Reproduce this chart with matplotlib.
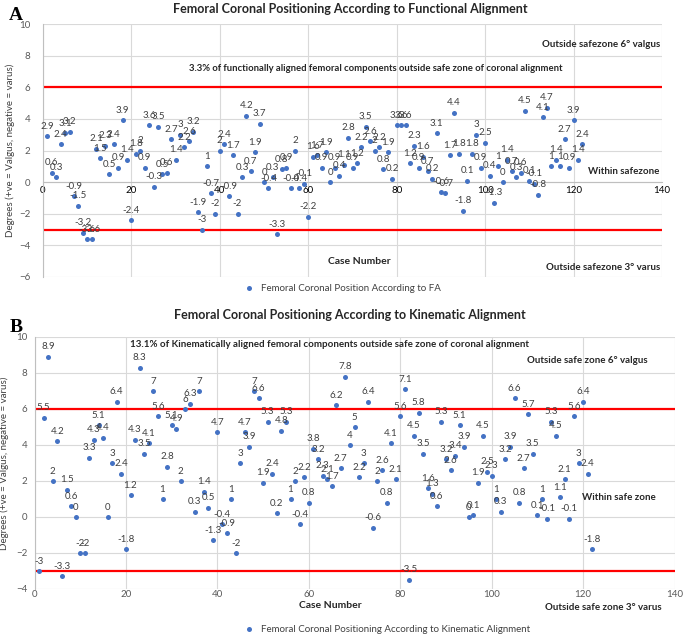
import matplotlib
matplotlib.use("Agg")
import matplotlib.pyplot as plt
import numpy as np

# ---------------- data ----------------
fa_values = [2.9, 0.6, 0.3, 2.4, 3.1, 3.2, -0.9, -1.5, -3.2, -3.6,
             -3.6, 2.1, 1.5, 2.3, 0.5, 2.4, 0.9, 3.9, 1.4, -2.4,
             1.8, 2, 0.9, 3.6, -0.3, 3.5, 0.5, 0.6, 2.7, 1.4,
             3, 2.2, 2.6, 3.2, -1.9, -3, 1, -0.7, -2, 2,
             2.4, -0.9, 1.7, -2, 0.3, 4.2, 0.7, 1.9, 3.7, 0,
             -0.4, 0.3, -3.3, 0.8, 0.9, -0.4, 2, -0.4, -0.1, -2.2,
             1.6, 1.7, 0.9, 1.9, 0, 0.9, 0.4, 1.1, 2.8, 0.9,
             1.2, 2.2, 3.5, 2.6, 2, 2.2, 0.8, 1.9, 0.2, 3.6,
             3.6, 3.6, 1.2, 2.3, 0.9, 1.6, 0.7, 0.2, 3.1, -0.6,
             -0.7, 1.7, 4.4, 1.8, -1.8, 0.1, 1.8, 3, 0.9, 2.5,
             0.4, -1.3, 1, 0, 1.4, 0.7, 0.3, 0.6, 4.5, 0.1,
             -0.1, -0.8, 4.1, 4.7, 1, 1.4, 1, 2.7, 0.9, 3.9,
             1.4, 2.4]

ka_values = [-3, 5.5, 8.9, 2, 4.2, -3.3, 1.5, 0.6, 0, -2,
             -2, 3.3, 4.3, 5.1, 4.4, 0, 3, 6.4, 2.4, -1.8,
             1.2, 4.3, 8.3, 3.5, 4.1, 7, 5.6, 1, 2.8, 5.1,
             4.9, 2, 6, 6.3, 0.3, 7, 1.4, 0.5, -1.3, 4.7,
             -0.4, -0.9, 1, -2, 3, 4.7, 3.9, 7, 6.6, 1.9,
             5.3, 2.4, 0.2, 4.8, 5.3, 1, 2, -0.4, 2.2, 0.8,
             3.8, 3.2, 2.3, 2.1, 1.7, 6.2, 2.7, 7.8, 4, 5,
             2.2, 3, 6.4, -0.6, 2, 2.6, 0.8, 4.1, 2.1, 5.6,
             7.1, -3.5, 4.5, 5.8, 3.5, 1.6, 1.3, 0.6, 5.3, 3.2,
             2.6, 3.4, 5.1, 3.9, 0, 0.1, 1.9, 4.5, 2.5, 2.3,
             1, 0.3, 3.2, 3.9, 6.6, 0.8, 2.7, 5.7, 3.5, 0.1,
             1, -0.1, 5.3, 4.5, 1.1, 2.1, -0.1, 5.6, 3, 6.4,
             2.4, -1.8]

fa_cases = list(range(1, len(fa_values) + 1))
ka_cases = list(range(1, len(ka_values) + 1))

x_ticks = [0, 20, 40, 60, 80, 100, 120, 140]
fa_y_ticks = [-6, -4, -2, 0, 2, 4, 6, 8, 10]
ka_y_ticks = [-4, -2, 0, 2, 4, 6, 8, 10]
safe_upper = 6
safe_lower = -3

# ---------------- style ----------------
FONT = ["Lato", "DejaVu Sans"]
plt.rcParams['font.family'] = FONT
BLUE = "#4472C4"
GRID = "#D9D9D9"
TXT = "#404040"
DARK = "#262626"

W, H = 685, 637
fig = plt.figure(figsize=(W / 100, H / 100), dpi=100)


def px_axes(left, right, top, bottom):
    return fig.add_axes([left / W, 1 - bottom / H, (right - left) / W, (bottom - top) / H])


def style_axes(ax, yticks, ypad, xpad):
    ax.set_xlim(0, 140)
    ax.set_ylim(yticks[0], yticks[-1])
    ax.set_xticks(x_ticks)
    ax.set_yticks(yticks)
    ax.grid(True, color=GRID, linewidth=0.8)
    ax.set_axisbelow(True)
    for s in ax.spines.values():
        s.set_visible(False)
    ax.tick_params(axis="x", length=0, labelsize=7, pad=xpad)
    ax.tick_params(axis="y", length=0, labelsize=7, pad=ypad)
    for t in ax.get_xticklabels() + ax.get_yticklabels():
        t.set_color("#595959")
    ax.spines['left'].set_visible(True)
    ax.spines['left'].set_color("#BFBFBF")


def draw_points(ax, xs, ys):
    ax.scatter(xs, ys, s=13, color=BLUE, zorder=3, linewidths=0)
    for x, y in zip(xs, ys):
        ax.annotate(f"{y:g}", (x, y), xytext=(0, 7.2), textcoords="offset points",
                    ha="center", va="center", fontsize=7, color=TXT, zorder=4)


# ---------------- Panel A ----------------
axA = px_axes(43, 662, 24, 277)
style_axes(axA, fa_y_ticks, 9, 3)
axA.spines['bottom'].set_visible(True)
axA.spines['bottom'].set_position(('data', 0))
axA.spines['bottom'].set_color("#BFBFBF")
axA.axhline(safe_upper, color="red", lw=1.6, zorder=2)
axA.axhline(safe_lower, color="red", lw=1.6, zorder=2)
draw_points(axA, fa_cases, fa_values)
axA.set_ylabel("Degrees (+ve = Valgus, negative = varus)", fontsize=7, color=TXT, labelpad=3)

axA.text(139.5, 8.7, "Outside safezone 6° valgus", ha="right", va="center",
         fontsize=7, fontweight="bold", color=DARK)
axA.text(33, 7.2, "3.3% of functionally aligned femoral components outside safe zone of coronal alignment",
         ha="left", va="center", fontsize=6.8, fontweight="bold", color=DARK)
axA.text(139.5, 0.65, "Within safezone", ha="right", va="center",
         fontsize=7, fontweight="bold", color=DARK)
axA.text(71.5, -5.0, "Case Number", ha="center", va="center",
         fontsize=7.5, fontweight="bold", color=DARK)
axA.text(139.5, -5.4, "Outside safezone 3° varus", ha="right", va="center",
         fontsize=7, fontweight="bold", color=DARK)

fig.text(350 / W, 1 - 9 / H, "Femoral Coronal Positioning According to Functional Alignment",
         ha="center", va="center", fontsize=9, fontweight="bold", color=DARK)
fig.text(16 / W, 1 - 16 / H, "A", ha="center", va="center", fontsize=14, fontweight="bold",
         family=["Liberation Serif", "DejaVu Serif"], color="black")

hA = axA.scatter([], [], s=13, color=BLUE, linewidths=0)
fig.legend([hA], ["Femoral Coronal Position According to FA"], loc="center",
           bbox_to_anchor=(340 / W, 1 - 288 / H), frameon=False, fontsize=7,
           handletextpad=0.2, labelcolor=TXT)

# ---------------- Panel B ----------------
axB = px_axes(34.5, 674.5, 337, 589)
style_axes(axB, ka_y_ticks, 5, 1)
axB.axhline(safe_upper, color="red", lw=1.6, zorder=2)
axB.axhline(safe_lower, color="red", lw=1.6, zorder=2)
draw_points(axB, ka_cases, ka_values)
axB.set_ylabel("Degrees (+ve = Valgus, negative = varus)", fontsize=7, color=TXT, labelpad=5)

axB.text(20.9, 9.6, "13.1% of Kinematically aligned femoral components outside safe zone of coronal alignment",
         ha="left", va="center", fontsize=7, fontweight="bold", color=DARK)
axB.text(107.8, 8.7, "Outside safe zone 6° valgus", ha="left", va="center",
         fontsize=7, fontweight="bold", color=DARK)
axB.text(119.8, 1.1, "Within safe zone", ha="left", va="center",
         fontsize=7, fontweight="bold", color=DARK)

fig.text(330 / W, 1 - 606 / H, "Case Number", ha="center", va="center",
         fontsize=7.5, fontweight="bold", color=DARK)
fig.text(662 / W, 1 - 608 / H, "Outside safe zone 3° varus", ha="right", va="center",
         fontsize=7, fontweight="bold", color=DARK)
fig.text(350 / W, 1 - 315 / H, "Femoral Coronal Positioning According to Kinematic Alignment",
         ha="center", va="center", fontsize=9, fontweight="bold", color=DARK)
fig.text(16 / W, 1 - 327 / H, "B", ha="center", va="center", fontsize=14, fontweight="bold",
         family=["Liberation Serif", "DejaVu Serif"], color="black")

hB = axB.scatter([], [], s=13, color=BLUE, linewidths=0)
fig.legend([hB], ["Femoral Coronal Positioning According to Kinematic Alignment"], loc="center",
           bbox_to_anchor=(385 / W, 1 - 629 / H), frameon=False, fontsize=7,
           handletextpad=0.2, labelcolor=TXT)

fig.savefig("out.png", dpi=100)
